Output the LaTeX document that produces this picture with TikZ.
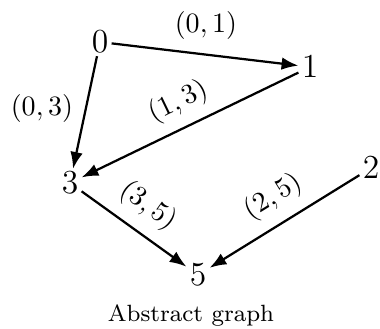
\documentclass[tikz,border=0pt]{standalone}
\usetikzlibrary{arrows.meta}
\begin{document}
\begin{tikzpicture}[x=0.357pt,y=-0.357pt,
  vtx/.style={inner sep=1pt, font=\fontsize{11.5}{13}\selectfont},
  arc/.style={line width=0.8pt, -{Latex[length=6pt,width=4.5pt]}},
  lbl/.style={font=\fontsize{10.3}{12}\selectfont, inner sep=0pt}]
\useasboundingbox (0,0) rectangle (380,329);
\node[vtx] (n0) at (100,42) {$0$};
\node[vtx] (n1) at (310,67) {$1$};
\node[vtx] (n3) at (70,183) {$3$};
\node[vtx] (n5) at (198,275) {$5$};
\node[vtx] (n2) at (371,168) {$2$};
\node[font=\fontsize{8.4}{10}\selectfont] (cap) at (191,316) {Abstract graph};
\draw[arc] (n0) -- (n1);
\draw[arc] (n0) -- (n3);
\draw[arc] (n1) -- (n3);
\draw[arc] (n3) -- (n5);
\draw[arc] (n2) -- (n5);
\node[lbl] (l01) at (206,26) {$(0,1)$};
\node[lbl] (l03) at (42,108) {$(0,3)$};
\node[lbl, rotate=25.8] (l13) at (178,102) {$(1,3)$};
\node[lbl, rotate=-35.7] (l35) at (148,206) {$(3,5)$};
\node[lbl, rotate=31.5] (l25) at (273,197) {$(2,5)$};
\end{tikzpicture}
\end{document}
